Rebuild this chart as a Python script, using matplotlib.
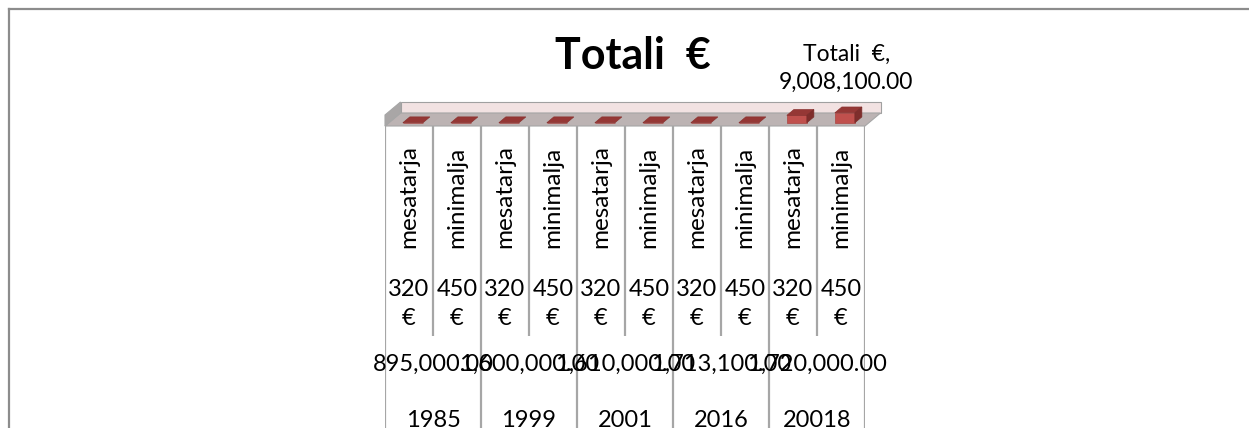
import matplotlib
matplotlib.use("Agg")
import matplotlib.pyplot as plt
from matplotlib.patches import Polygon
from matplotlib.lines import Line2D

plt.rcParams['font.family'] = ['Lato', 'DejaVu Sans']

# data
series_name = "Totali  €"
types = ["mesatarja", "minimalja"] * 5
wages = ["320\n€", "450\n€"] * 5
totals = ["895,000.00", "1,600,000.00", "1,610,000.00", "1,713,100.00", "1,720,000.00"]
years = ["1985", "1999", "2001", "2016", "20018"]
values = [0, 0, 0, 0, 0, 0, 0, 0, 6700000, 9008100]

W, H = 1249, 428
fig = plt.figure(figsize=(W / 100, H / 100), dpi=100)

# outer chart border (cropped on the right and bottom)
fig.add_artist(Line2D([8.5 / W, 8.5 / W], [0, 1 - 8.5 / H], color="#8c8c8c", lw=1.6))
fig.add_artist(Line2D([8.5 / W, 1], [1 - 8.5 / H, 1 - 8.5 / H], color="#8c8c8c", lw=1.6))

# 3D bar area
left_px, right_px, floor_px, wall_px = 385, 865, 126, 11
ax = fig.add_axes([left_px / W, (H - floor_px) / H, (right_px - left_px) / W, wall_px / H])
ymax = 10000000
n = len(values)
ax.set_xlim(0, n)
ax.set_ylim(0, ymax)
ax.axis("off")

px_x = (right_px - left_px) / n
px_y = wall_px / ymax
dx = 15.5 / px_x
dy = 13 / px_y

floor = Polygon([(0, 0), (n, 0), (n + dx, dy), (dx, dy)], closed=True,
                facecolor="#bcb3b3", edgecolor="#a6a6a6", lw=0.8, clip_on=False, zorder=1)
side = Polygon([(0, 0), (dx, dy), (dx, dy + ymax), (0, ymax)], closed=True,
               facecolor="#a9a6a6", edgecolor="#a6a6a6", lw=0.8, clip_on=False, zorder=1)
back = Polygon([(dx, dy), (n + dx, dy), (n + dx, dy + ymax), (dx, dy + ymax)], closed=True,
               facecolor="#f2e2e2", edgecolor="#a0a0a0", lw=0.8, clip_on=False, zorder=0.5)
for p in (back, floor, side):
    ax.add_patch(p)

bw = 20 / px_x
b0 = 0.25
bd = 0.45
for i, v in enumerate(values):
    c = i + 0.5 + b0 * dx
    base = b0 * dy
    ax.bar(c, v, width=bw, bottom=base, color="#c0504d", edgecolor="#a94542", lw=0.5,
           clip_on=False, zorder=3)
    top = base + v
    l, r = c - bw / 2, c + bw / 2
    ax.add_patch(Polygon([(l, top), (r, top), (r + bd * dx, top + bd * dy), (l + bd * dx, top + bd * dy)],
                         closed=True, facecolor="#953735", edgecolor="#8a3230", lw=0.5,
                         clip_on=False, zorder=3))
    if v > 0:
        ax.add_patch(Polygon([(r, base), (r + bd * dx, base + bd * dy), (r + bd * dx, top + bd * dy), (r, top)],
                             closed=True, facecolor="#7f2e2c", edgecolor="#7a2c2a", lw=0.5,
                             clip_on=False, zorder=3))

# data label on the largest bar
last = n - 1
ax.annotate(f"{series_name},\n{values[last]:,.2f}", xy=(last + 0.5 + b0 * dx, b0 * dy + values[last]),
            xytext=(1, 32), textcoords="offset points", ha="center", va="center",
            fontsize=16.5, linespacing=1.4, annotation_clip=False)

fig.text(633 / W, 1 - 56 / H, series_name, ha="center", va="center", fontsize=31, fontweight="bold")

# multi-level category axis
tx = fig.add_axes([left_px / W, 0, (right_px - left_px) / W, (H - floor_px) / H])
tx.set_xlim(0, n)
tx.set_ylim(1, 0)
tx.axis("off")

line_c = "#a6a6a6"
tx.vlines(range(0, n + 1, 2), 0, 1, color=line_c, lw=1.6)
tx.vlines(range(1, n, 2), 0, 0.695, color=line_c, lw=1.6)

for i in range(n):
    tx.text(i + 0.5, 0.235, types[i], rotation=90, ha="center", va="center", fontsize=17.5)
    tx.text(i + 0.5, 0.59, wages[i], ha="center", va="center", fontsize=17, linespacing=1.5)
for g in range(len(years)):
    tx.text(2 * g + 1, 0.788, totals[g], ha="center", va="center", fontsize=17)
    tx.text(2 * g + 1, 0.975, years[g], ha="center", va="center", fontsize=17, clip_on=False)

fig.savefig("out.png", dpi=100)
